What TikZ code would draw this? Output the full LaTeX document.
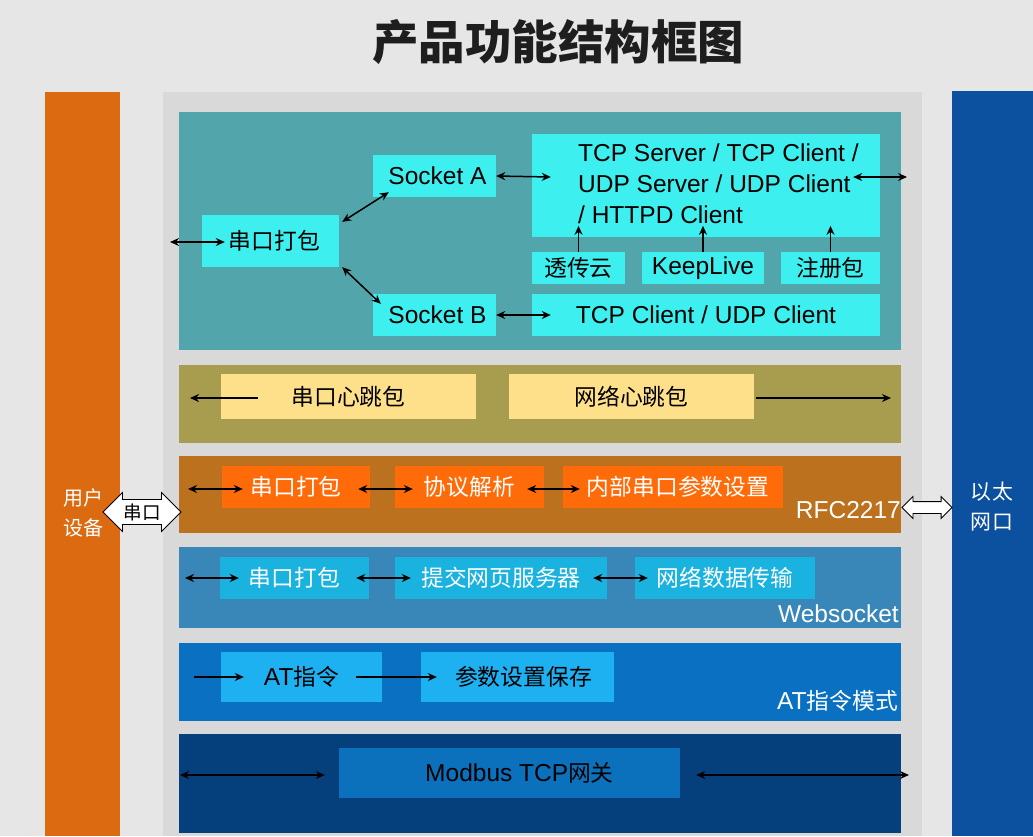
\documentclass[tikz,border=0pt]{standalone}
\usepackage{fontspec}
\setmainfont{Liberation Sans}
\newfontfamily\cjk[Scale=0.93]{Noto Sans CJK SC}
\newcommand\zh[1]{{\cjk #1}}
\usepackage{tikz}
\usetikzlibrary{arrows.meta,calc,shapes.arrows}

\definecolor{bgc}{RGB}{230,230,230}
\definecolor{panelc}{RGB}{217,217,217}
\definecolor{userbar}{RGB}{219,106,16}
\definecolor{ethbar}{RGB}{11,81,160}
\definecolor{tealband}{RGB}{82,165,170}
\definecolor{cyanbox}{RGB}{62,239,239}
\definecolor{oliveband}{RGB}{168,156,78}
\definecolor{yellowbox}{RGB}{255,224,138}
\definecolor{brownband}{RGB}{187,113,29}
\definecolor{orangebox}{RGB}{255,107,8}
\definecolor{steelband}{RGB}{56,135,184}
\definecolor{steelbox}{RGB}{26,178,223}
\definecolor{blueband}{RGB}{10,113,194}
\definecolor{bluebox}{RGB}{29,177,242}
\definecolor{navyband}{RGB}{5,63,124}
\definecolor{navybox}{RGB}{11,113,188}
\definecolor{titlec}{RGB}{30,30,30}

\begin{document}
\begin{tikzpicture}
[x=1pt,y=-1pt,
 every node/.style={inner sep=0pt, font=\fontsize{24.5}{28}\selectfont},
 dbl/.style={{Stealth[length=9pt,width=8pt]}-{Stealth[length=9pt,width=8pt]}, line width=1.5pt},
 one/.style={-{Stealth[length=9pt,width=8pt]}, line width=1.5pt},
 hollow/.style={double arrow, draw=black, fill=white, line width=.8pt}]
\useasboundingbox (0,0) rectangle (1033,836);
\fill[bgc] (0,0) rectangle (1033,836);

\node[text=titlec, font=\cjk\bfseries\fontsize{50}{54}\selectfont] (title) at (558,42) {产品功能结构框图};

\node[fill=userbar, minimum width=75pt, minimum height=744pt] (ubar) at (82.5,464) {};
\node[fill=ethbar, minimum width=81pt, minimum height=745pt] (ebar) at (992.5,463.5) {};
\node[fill=panelc, minimum width=759pt, minimum height=744pt] (panel) at (542.5,464) {};
\node[text=white, align=center, font=\cjk\fontsize{21.5}{30}\selectfont] (user) at (83,513) {用户\\设备};
\node[text=white, align=center, font=\cjk\fontsize{22.5}{30}\selectfont] (eth) at (992,507) {以\hspace{1pt}太\\网\hspace{1pt}口};

\node[fill=tealband, minimum width=722pt, minimum height=238pt] (b1) at (540,231) {};
\node[fill=oliveband, minimum width=722pt, minimum height=78pt] (b2) at (540,404) {};
\node[fill=brownband, minimum width=722pt, minimum height=77pt] (b3) at (540,494.5) {};
\node[fill=steelband, minimum width=722pt, minimum height=81pt] (b4) at (540,587.5) {};
\node[fill=blueband, minimum width=722pt, minimum height=78pt] (b5) at (540,682) {};
\node[fill=navyband, minimum width=722pt, minimum height=99pt] (b6) at (540,783.5) {};

\node[fill=cyanbox, minimum width=137pt, minimum height=52pt] (pack1) at (270.5,241) {\hspace{8pt}\zh{串口打包}};
\node[fill=cyanbox, minimum width=123pt, minimum height=42pt] (sockA) at (434.5,176) {\hspace{6pt}Socket A};
\node[fill=cyanbox, minimum width=123pt, minimum height=42pt] (sockB) at (434.5,315) {\hspace{6pt}Socket B};
\node[fill=cyanbox, minimum width=348pt, minimum height=103pt] (tcpA) at (706,185.5) {};
\node[anchor=west, align=left, font=\fontsize{24.5}{31}\selectfont] (tcpAtxt) at (578,184) {TCP Server / TCP Client /\\UDP Server / UDP Client\\/ HTTPD Client};
\node[fill=cyanbox, minimum width=93pt, minimum height=32pt] (cloud) at (578.5,268) {\zh{透传云}};
\node[fill=cyanbox, minimum width=122pt, minimum height=32pt] (keep) at (703,268) {KeepLive};
\node[fill=cyanbox, minimum width=99pt, minimum height=32pt] (reg) at (830.5,268) {\zh{注册包}};
\node[fill=cyanbox, minimum width=348pt, minimum height=42pt] (tcpB) at (706,315) {TCP Client / UDP Client};

\node[fill=yellowbox, minimum width=255pt, minimum height=45pt] (hb1) at (348.5,396.5) {\zh{串口心跳包}};
\node[fill=yellowbox, minimum width=245pt, minimum height=45pt] (hb2) at (631.5,396.5) {\zh{网络心跳包}};

\node[fill=orangebox, text=white, minimum width=148pt, minimum height=42pt] (p3) at (296,487) {\zh{串口打包}};
\node[fill=orangebox, text=white, minimum width=149pt, minimum height=42pt] (proto) at (469.5,487) {\zh{协议解析}};
\node[fill=orangebox, text=white, minimum width=220pt, minimum height=42pt] (inner) at (673,487) {\hspace{10pt}\zh{内部串口参数设置}};
\node[text=white, anchor=east] (rfclbl) at (901,510) {RFC2217};

\node[fill=steelbox, text=white, minimum width=149pt, minimum height=42pt] (p4) at (294.5,578) {\zh{串口打包}};
\node[fill=steelbox, text=white, minimum width=212pt, minimum height=42pt] (web) at (501,578) {\zh{提交网页服务器}};
\node[fill=steelbox, text=white, minimum width=180pt, minimum height=42pt] (net) at (725,578) {\zh{网络数据传输}};
\node[text=white, anchor=east] (weblbl) at (899,614) {Websocket};

\node[fill=bluebox, minimum width=161pt, minimum height=50pt] (at) at (301.5,677) {AT\zh{指令}};
\node[fill=bluebox, minimum width=193pt, minimum height=50pt] (save) at (517.5,677) {\hspace{12pt}\zh{参数设置保存}};
\node[text=white, anchor=east] (atlbl) at (898,701) {AT\zh{指令模式}};

\node[fill=navybox, minimum width=341pt, minimum height=50pt] (mod) at (509.5,773) {\hspace{20pt}Modbus TCP\zh{网关}};

\node[hollow, minimum height=78pt, inner xsep=0pt, inner ysep=3.5pt, double arrow head extend=7pt, font=\cjk\fontsize{20}{22}\selectfont] (serial) at (142,512) {串口};
\node[hollow, minimum height=50pt, inner xsep=0pt, inner ysep=5.5pt, double arrow head extend=5pt] (rfc) at (927,507.5) {};

\coordinate (inA) at (170,242);
\coordinate (outA) at (907,177);
\coordinate (inB) at (190,398);
\coordinate (outB) at (891,398);
\coordinate (inC) at (188,489);
\coordinate (inD) at (185,578);
\coordinate (inE) at (194,677);
\coordinate (inF) at (180,775);
\coordinate (outF) at (909,775);

\draw[dbl] (inA) -- ($(pack1.west)+(23,1)$);
\draw[dbl] (sockA.east) -- ($(tcpA.west)+(19,-8.5)$);
\draw[dbl] ($(tcpA.east)+(-27,-8.5)$) -- (outA);
\draw[dbl] ($(pack1.north east)+(3,7)$) -- ($(sockA.south west)+(16,-5)$);
\draw[dbl] ($(pack1.south east)+(3,0)$) -- ($(sockB.north west)+(8,10)$);
\draw[dbl] (sockB.east) -- ($(tcpB.west)+(19,0)$);
\foreach \n in {cloud,keep,reg}
\draw[one] (\n.north) -- ($(\n.north)+(0,-26)$);

\draw[one] ($(hb1.west)+(37,1.5)$) -- (inB);
\draw[one] ($(hb2.east)+(2,1.5)$) -- (outB);

\draw[dbl] (inC) -- ($(p3.west)+(21,2)$);
\draw[dbl] ($(p3.east)+(-12,2)$) -- ($(proto.west)+(18,2)$);
\draw[dbl] ($(proto.east)+(-17,2)$) -- ($(inner.west)+(17,2)$);

\draw[dbl] (inD) -- ($(p4.west)+(19,0)$);
\draw[dbl] ($(p4.east)+(-13,0)$) -- ($(web.west)+(16,0)$);
\draw[dbl] ($(web.east)+(-14,0)$) -- ($(net.west)+(13,0)$);

\draw[one] (inE) -- ($(at.west)+(23,0)$);
\draw[one] ($(at.east)+(-26,0)$) -- ($(save.west)+(16,0)$);

\draw[dbl] (inF) -- ($(mod.west)+(-14,2)$);
\draw[dbl] ($(mod.east)+(16,2)$) -- (outF);
\end{tikzpicture}
\end{document}
